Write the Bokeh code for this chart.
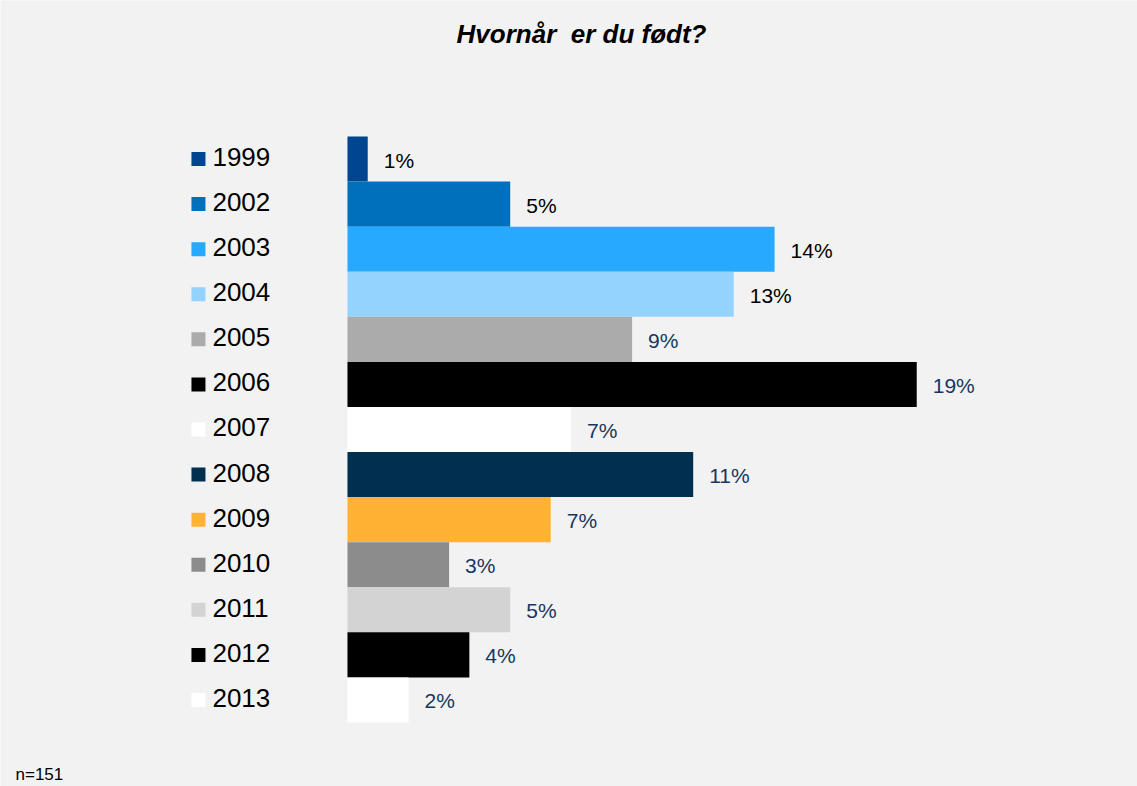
from bokeh.plotting import figure
from bokeh.models import Range1d, Label, ColumnDataSource
from bokeh.core.properties import value
from bokeh.embed import file_html
from bokeh.resources import INLINE

# ---- data ----
years = ["1999", "2002", "2003", "2004", "2005", "2006", "2007",
         "2008", "2009", "2010", "2011", "2012", "2013"]
percent = [0.66, 5.30, 13.91, 12.58, 9.27, 18.54, 7.28,
           11.26, 6.62, 3.31, 5.30, 3.97, 1.99]
colors = ["#00458f", "#006fbc", "#26a9ff", "#95d3ff", "#ababab", "#000000", "#ffffff",
          "#002f50", "#ffb233", "#8c8c8c", "#d3d3d3", "#000000", "#ffffff"]
label_colors = ["#000000"] * 4 + ["#17375e"] * 9
title_text = "Hvornår \u00a0er du født?"
note_text = "n=151"

FONT_NAME = "Liberation Sans"
FONT = value(FONT_NAME)

rows = list(range(len(years)))
src = ColumnDataSource(dict(
    row=rows,
    year=years,
    pct=percent,
    color=colors,
    label=[f"{v:.0f}%" for v in percent],
    label_color=label_colors,
))

W, H = 1137, 786
p = figure(width=W, height=H,
           x_range=Range1d(-11.30, 25.73),
           y_range=Range1d(13.92, -3.517),
           x_axis_location=None, y_axis_location=None,
           output_backend="svg", toolbar_location=None,
           min_border=0,
           background_fill_color="#f2f2f2", border_fill_color="#f2f2f2",
           outline_line_color=None)
p.grid.visible = False

# bars
p.hbar(y="row", left=0, right="pct", height=1.0, fill_color="color",
       line_color=None, source=src)

# value labels
p.text(x="pct", y="row", text="label", x_offset=16, y_offset=1,
       text_color="label_color", text_font=FONT, text_font_size="21px",
       text_baseline="middle", text_align="left", source=src)

# legend (squares + years)
LEG_X = -4.853
p.scatter(x=LEG_X, y="row", marker="square", size=14, fill_color="color",
          line_color=None, source=src)
p.text(x=LEG_X, y="row", text="year", x_offset=14, y_offset=-2,
       text_color="#000000", text_font=FONT, text_font_size="26px",
       text_baseline="middle", text_align="left", source=src)

# title
p.add_layout(Label(x=581, y=753, x_units="screen", y_units="screen",
                   text=title_text, text_font=FONT_NAME, text_font_size="26px",
                   text_font_style="bold italic", text_align="center",
                   text_baseline="middle", text_color="#000000"))
# note
p.add_layout(Label(x=15, y=12, x_units="screen", y_units="screen",
                   text=note_text, text_font=FONT_NAME, text_font_size="17px",
                   text_align="left", text_baseline="middle",
                   text_color="#000000"))

open("out.html", "w").write(file_html(p, INLINE))
